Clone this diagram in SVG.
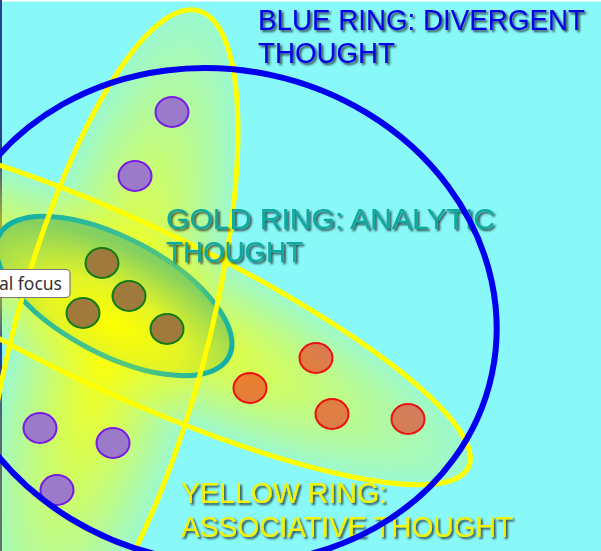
<svg xmlns="http://www.w3.org/2000/svg" width="601" height="551" viewBox="0 0 601 551">
<defs>
<style>
.ys{fill:none;stroke:#ffff00;stroke-width:5}
.pd{fill:#9b7bc9;stroke:#7a1ae6;stroke-width:2}
.bd{fill:#a07a3c;stroke:#127a14;stroke-width:2}
.rd{fill:rgba(255,0,0,0.5);stroke:#ee1010;stroke-width:2}
.t{font-family:"Liberation Sans",Arial,sans-serif;font-size:29px;filter:url(#sh)}
</style>
<radialGradient id="yf" cx="0.5" cy="0.5" r="0.5">
<stop offset="0" stop-color="#ffff00" stop-opacity="0.95"/>
<stop offset="0.5" stop-color="#ffff00" stop-opacity="0.55"/>
<stop offset="1" stop-color="#ffff00" stop-opacity="0.15"/>
</radialGradient>
<radialGradient id="tf" cx="0.55" cy="0.72" r="0.65">
<stop offset="0" stop-color="#ffff00"/>
<stop offset="0.45" stop-color="#e2f428"/>
<stop offset="1" stop-color="#84d060"/>
</radialGradient>
<linearGradient id="ts" x1="0" y1="0" x2="1" y2="0">
<stop offset="0" stop-color="#10b0a8"/>
<stop offset="0.45" stop-color="#40c090"/>
<stop offset="0.7" stop-color="#58c878"/>
<stop offset="1" stop-color="#10b0a8"/>
</linearGradient>
<filter id="sh" x="-5%" y="-20%" width="110%" height="150%">
<feDropShadow dx="2" dy="2" stdDeviation="1" flood-color="#000" flood-opacity="0.7"/>
</filter>
</defs>
<rect width="601" height="551" fill="#88f8f8"/>
<rect width="601" height="1.5" fill="#ffffff"/>
<rect width="2" height="551" fill="#2b3f8f"/>

<g id="yellow-ring-fills">
<ellipse cx="110" cy="340" rx="96" ry="341" transform="rotate(15 110 340)" fill="url(#yf)"/>
<ellipse cx="125" cy="307" rx="379" ry="85" transform="rotate(25 125 307)" fill="url(#yf)"/>
</g>

<g id="gold-ring">
<ellipse cx="114" cy="296" rx="130" ry="58" transform="rotate(28 114 296)" fill="url(#tf)" stroke="url(#ts)" stroke-width="5"/>
</g>

<g id="yellow-ring">
<ellipse class="ys" cx="110" cy="340" rx="96" ry="341" transform="rotate(15 110 340)"/>
<ellipse class="ys" cx="125" cy="307" rx="379" ry="85" transform="rotate(25 125 307)"/>
</g>

<g id="dots">
<g id="purple-dots">
<ellipse class="pd" cx="172" cy="112" rx="16.5" ry="15"/>
<ellipse class="pd" cx="135" cy="176" rx="16.5" ry="15"/>
<ellipse class="pd" cx="40" cy="428" rx="16.5" ry="15"/>
<ellipse class="pd" cx="113" cy="443" rx="16.5" ry="15"/>
<ellipse class="pd" cx="57" cy="490" rx="16.5" ry="15"/>
</g>
<g id="brown-dots">
<ellipse class="bd" cx="102" cy="263" rx="16.5" ry="15"/>
<ellipse class="bd" cx="129" cy="296" rx="16.5" ry="15"/>
<ellipse class="bd" cx="83" cy="313" rx="16.5" ry="15"/>
<ellipse class="bd" cx="167" cy="329" rx="16.5" ry="15"/>
</g>
<g id="red-dots">
<ellipse class="rd" cx="250" cy="388" rx="16.5" ry="15"/>
<ellipse class="rd" cx="316" cy="358" rx="16.5" ry="15"/>
<ellipse class="rd" cx="332" cy="414" rx="16.5" ry="15"/>
<ellipse class="rd" cx="408" cy="419" rx="16.5" ry="15"/>
</g>
</g>

<g id="labels">
<g id="blue-label" fill="#0000e6">
<text class="t" x="258" y="30" textLength="327" lengthAdjust="spacingAndGlyphs">BLUE RING: DIVERGENT</text>
<text class="t" x="258" y="63" textLength="137" lengthAdjust="spacingAndGlyphs">THOUGHT</text>
</g>
<g id="gold-label" fill="#10a8a0">
<text class="t" x="166" y="229" textLength="329" lengthAdjust="spacingAndGlyphs">GOLD RING: ANALYTIC</text>
<text class="t" x="166" y="262" textLength="137" lengthAdjust="spacingAndGlyphs">THOUGHT</text>
</g>
<g id="yellow-label" fill="#f4f400">
<text class="t" x="181" y="503" textLength="206" lengthAdjust="spacingAndGlyphs">YELLOW RING:</text>
<text class="t" x="181" y="537" textLength="332" lengthAdjust="spacingAndGlyphs">ASSOCIATIVE THOUGHT</text>
</g>
</g>

<g id="blue-ring">
<ellipse cx="219" cy="316" rx="279" ry="246.5" transform="rotate(12 219 316)" fill="none" stroke="#0000ee" stroke-width="6"/>
</g>

<g id="tooltip">
<rect x="-10" y="269.5" width="80" height="28" rx="4" fill="#ffffff" stroke="#767676" stroke-width="1.2"/>
<text x="62" y="290" text-anchor="end" font-family="'Noto Sans',sans-serif" font-size="17.5" fill="#333333">ual focus</text>
</g>
</svg>
